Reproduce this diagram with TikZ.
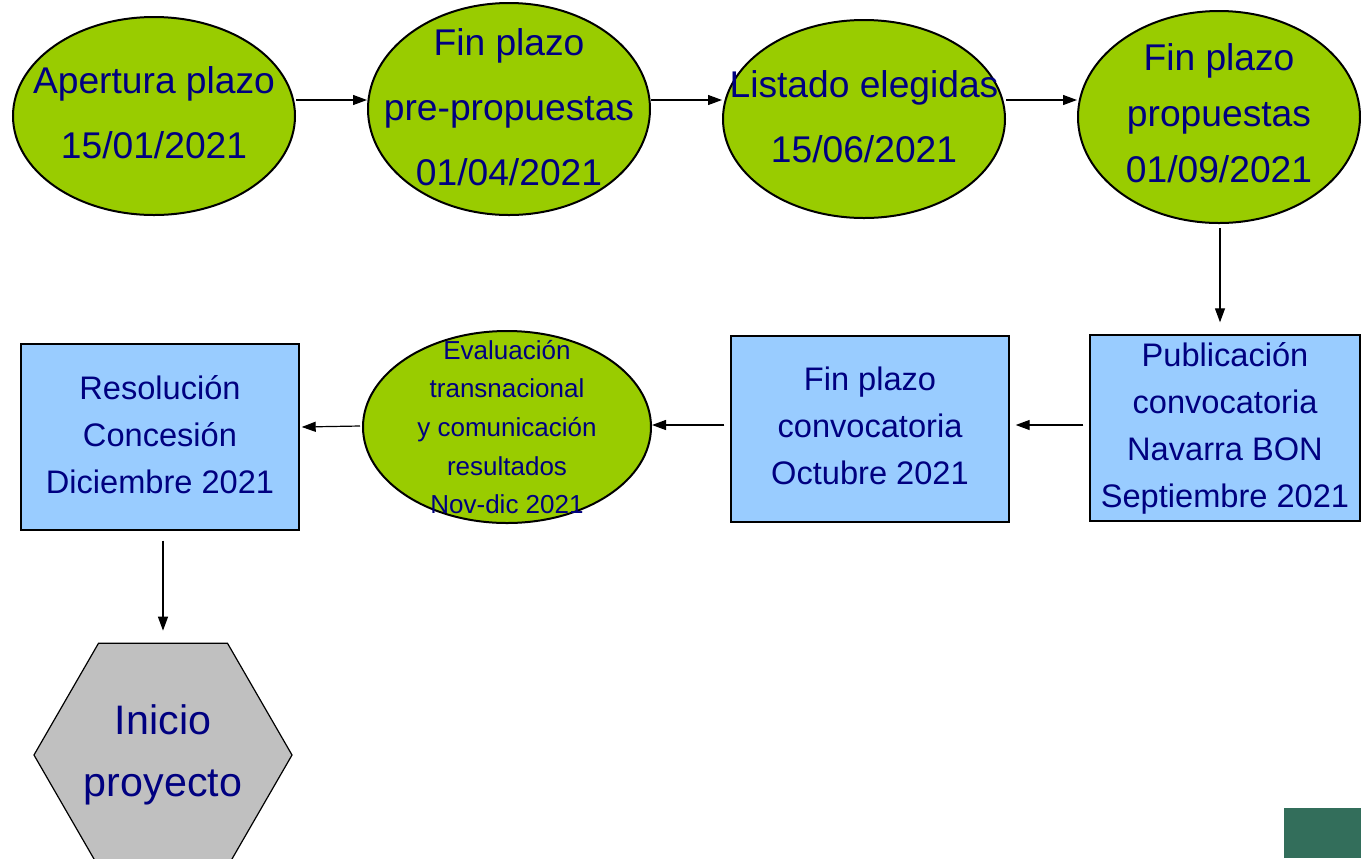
\documentclass[tikz,border=0pt]{standalone}
\usepackage{fontspec}
\setmainfont{Liberation Sans}
\usetikzlibrary{shapes.geometric, arrows.meta}
\definecolor{hitogreen}{HTML}{99CC00}
\definecolor{hitoblue}{HTML}{99CCFF}
\definecolor{hitogray}{HTML}{C0C0C0}
\definecolor{hitotext}{HTML}{000080}
\definecolor{cornergreen}{HTML}{336E5B}
\tikzstyle{milestone} = [ellipse, minimum width=141pt, minimum height=99pt, inner xsep=-40pt, inner ysep=-30pt, align=center, draw=black, line width=1pt, fill=hitogreen, text=hitotext, font=\fontsize{18.6}{32.5}\selectfont]
\tikzstyle{process} = [rectangle, minimum width=139pt, minimum height=93pt, inner sep=0pt, align=center, draw=black, line width=0.7pt, fill=hitoblue, text=hitotext, font=\fontsize{16.3}{23.5}\selectfont]
\tikzstyle{finish} = [regular polygon, regular polygon sides=6, minimum size=128pt, inner sep=0pt, align=center, draw=black, line width=0.6pt, fill=hitogray, text=hitotext, font=\fontsize{20.6}{31}\selectfont]
\tikzstyle{arrow} = [line width=0.6pt,->,>={Triangle[length=7pt,width=5pt]}]

\begin{document}
\begin{tikzpicture}[x=0.5pt, y=-0.5pt]
	\useasboundingbox (0,0) rectangle (1361,858);
	\node (m1) [milestone, text depth=3.7pt] at (154,116) {Apertura plazo\\15/01/2021};
	\node (m2) [milestone, minimum height=106pt, text depth=2pt] at (509,109) {Fin plazo\\pre-propuestas\\01/04/2021};
	\node (m3) [milestone, text depth=2.5pt] at (864,119) {Listado elegidas\\15/06/2021};
	\node (m4) [milestone, minimum height=106pt, text depth=4.2pt, font=\fontsize{18.6}{28}\selectfont] at (1219,117) {Fin plazo\\propuestas\\01/09/2021};
	\node (p1) [process, minimum width=135pt] at (1225,428) {Publicación\\convocatoria\\Navarra BON\\Septiembre 2021};
	\node (p2) [process, text depth=3.5pt] at (870,429) {Fin plazo\\convocatoria\\Octubre 2021};
	\node (m5) [milestone, minimum width=144pt, minimum height=96pt, font=\fontsize{13}{19.3}\selectfont] at (507,427) {Evaluación\\transnacional\\y comunicación\\resultados\\Nov-dic 2021};
	\node (p3) [process, text depth=2.5pt] at (160,437) {Resolución\\Concesión\\Diciembre 2021};
	\node (fin) [finish] at (163,755) {Inicio\\proyecto};
	\fill[cornergreen] (1284,808) rectangle (1361,858);
\draw [arrow] (m1.east |- 0,100) -- (m2.west |- 0,100);
\draw [arrow] (m2.east |- 0,100) -- (m3.west |- 0,100);
\draw [arrow] (m3.east |- 0,100) -- (m4.west |- 0,100);
\draw [arrow] ([yshift=-2pt]m4.south -| 1220,0) -- ([yshift=6pt]p1.north -| 1220,0);
\draw [arrow] ([xshift=-3pt]p1.west |- 0,425) -- ([xshift=3pt]p2.east |- 0,425);
\draw [arrow] ([xshift=-3pt]p2.west |- 0,425) -- (m5.east |- 0,425);
\draw [arrow] ([xshift=-1pt]m5.west |- 0,426) -- ([xshift=1pt]p3.east |- 0,427);
\draw [arrow] ([yshift=-5pt]p3.south -| 163,0) -- ([yshift=6pt]fin.north -| 163,0);
\end{tikzpicture}
\end{document}
